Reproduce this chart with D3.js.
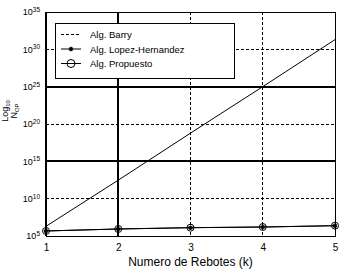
<!DOCTYPE html>
<html>
<head>
<meta charset="utf-8">
<script src="https://cdn.jsdelivr.net/npm/d3@7"></script>
<style>
  body { margin: 0; background: #fff; }
  svg { font-family: "Liberation Sans", Arial, sans-serif; }
  .crisp { shape-rendering: crispEdges; }
</style>
</head>
<body>
<div id="vis"></div>
<script>
// Data
const rebotes = [1, 2, 3, 4, 5];
const barry = [2e6, 3e12, 6e18, 1e25, 2e31];
const lopez = [4.7e5, 8.7e5, 1.3e6, 1.6e6, 2.4e6];
const propuesto = [4.7e5, 8.7e5, 1.3e6, 1.6e6, 2.4e6];
const yTicks = [5, 10, 15, 20, 25, 30, 35];
const seriesNames = ["Alg. Barry", "Alg. Lopez-Hernandez", "Alg. Propuesto"];

const width = 341, height = 271;
const margin = {top: 12, right: 6, bottom: 35, left: 46};
const w = width - margin.left - margin.right;
const h = height - margin.top - margin.bottom;

const svg = d3.select("#vis").append("svg")
    .attr("width", width)
    .attr("height", height);

const g = svg.append("g")
    .attr("transform", "translate(" + margin.left + "," + margin.top + ")");

const x = d3.scaleLinear().domain([1, 5]).range([0, w]);
const y = d3.scaleLog().domain([1e5, 1e35]).range([h, 0]);

// grid lines (odd mix of dashed and thick solid, as in the original)
[10, 20, 30].forEach(e => {
    g.append("line").attr("class", "crisp")
        .attr("x1", 0).attr("x2", w)
        .attr("y1", y(Math.pow(10, e))).attr("y2", y(Math.pow(10, e)))
        .attr("stroke", "#000").attr("stroke-dasharray", "3,2");
});
[15, 25].forEach(e => {
    g.append("line").attr("class", "crisp")
        .attr("x1", 0).attr("x2", w)
        .attr("y1", y(Math.pow(10, e))).attr("y2", y(Math.pow(10, e)))
        .attr("stroke", "#000").attr("stroke-width", 2);
});
[3, 4].forEach(k => {
    g.append("line").attr("class", "crisp")
        .attr("x1", x(k)).attr("x2", x(k))
        .attr("y1", 0).attr("y2", h)
        .attr("stroke", "#000").attr("stroke-dasharray", "3,2");
});
g.append("line").attr("class", "crisp")
    .attr("x1", x(2)).attr("x2", x(2))
    .attr("y1", 0).attr("y2", h)
    .attr("stroke", "#000").attr("stroke-width", 2);

// frame
g.append("rect").attr("class", "crisp")
    .attr("x", 0.5).attr("y", 0.5)
    .attr("width", w).attr("height", h)
    .attr("fill", "none").attr("stroke", "#000");
g.append("line").attr("class", "crisp")
    .attr("x1", 0).attr("x2", 0).attr("y1", 0).attr("y2", h)
    .attr("stroke", "#000").attr("stroke-width", 2);

// axes
const xAxis = g.append("g")
    .attr("transform", "translate(0," + h + ")")
    .call(d3.axisBottom(x).tickValues(rebotes).tickFormat(d3.format("d")).tickSize(0).tickPadding(8));
xAxis.select(".domain").remove();
xAxis.selectAll("text").attr("font-size", 10).attr("font-family", "Liberation Sans, Arial, sans-serif");

const yAxis = g.append("g")
    .call(d3.axisLeft(y).tickValues(yTicks.map(e => Math.pow(10, e))).tickSize(0).tickPadding(6));
yAxis.select(".domain").remove();
yAxis.selectAll("text")
    .attr("font-size", 9)
    .attr("font-family", "Liberation Sans, Arial, sans-serif")
    .text(null)
    .each(function (d) {
        const t = d3.select(this);
        t.append("tspan").text("10");
        t.append("tspan").attr("dy", "-0.5em").attr("font-size", 6.5)
            .text(Math.round(Math.log10(d)));
    });

// lines
const line = d3.line().x((d, i) => x(rebotes[i])).y(d => y(d));

g.append("path").datum(barry)
    .attr("d", line).attr("fill", "none").attr("stroke", "#000");
g.append("path").datum(lopez)
    .attr("d", line).attr("fill", "none").attr("stroke", "#000");
g.append("path").datum(propuesto)
    .attr("d", line).attr("fill", "none").attr("stroke", "#000");

const star = d3.symbol(d3.symbolAsterisk, 14);
g.selectAll(".lopez").data(lopez).enter().append("path")
    .attr("class", "lopez")
    .attr("transform", (d, i) => "translate(" + x(rebotes[i]) + "," + y(d) + ")")
    .attr("d", star).attr("stroke", "#000").attr("stroke-width", 1.5).attr("fill", "none");
g.selectAll(".prop").data(propuesto).enter().append("circle")
    .attr("class", "prop")
    .attr("cx", (d, i) => x(rebotes[i])).attr("cy", d => y(d))
    .attr("r", 3.5).attr("fill", "none").attr("stroke", "#000");

// legend
const lg = svg.append("g").attr("transform", "translate(55,23)");
lg.append("rect").attr("class", "crisp")
    .attr("x", 0.5).attr("y", 0.5).attr("width", 179).attr("height", 55)
    .attr("fill", "#fff").attr("stroke", "#000");
seriesNames.forEach((name, i) => {
    const ly = 11 + i * 14.5;
    const row = lg.append("g").attr("transform", "translate(0," + ly + ")");
    row.append("line").attr("x1", 6).attr("x2", 26).attr("y1", 0.5).attr("y2", 0.5)
        .attr("stroke", "#000").attr("stroke-dasharray", i === 0 ? "3,2" : null);
    if (i === 1) {
        row.append("path").attr("transform", "translate(16,0.5)")
            .attr("d", star).attr("stroke", "#000").attr("stroke-width", 1.5);
    }
    if (i === 2) {
        row.append("circle").attr("cx", 16).attr("cy", 0.5).attr("r", 4)
            .attr("fill", "none").attr("stroke", "#000");
    }
    row.append("text").attr("x", 35).attr("y", 4)
        .attr("font-size", 9.5).text(name);
});

// axis titles
svg.append("text")
    .attr("x", margin.left + w / 2).attr("y", 266)
    .attr("text-anchor", "middle").attr("font-size", 12)
    .text("Numero de Rebotes (k)");

const yl = svg.append("g").attr("transform", "translate(0,111) rotate(-90)");
const t1 = yl.append("text").attr("x", 0).attr("y", 8)
    .attr("text-anchor", "middle").attr("font-size", 9);
t1.append("tspan").text("Log");
t1.append("tspan").attr("font-size", 6).attr("dy", "0.3em").text("10");
const t2 = yl.append("text").attr("x", 0).attr("y", 17)
    .attr("text-anchor", "middle").attr("font-size", 9);
t2.append("tspan").text("N");
t2.append("tspan").attr("font-size", 6).attr("dy", "0.3em").text("OP");
</script>
</body>
</html>
